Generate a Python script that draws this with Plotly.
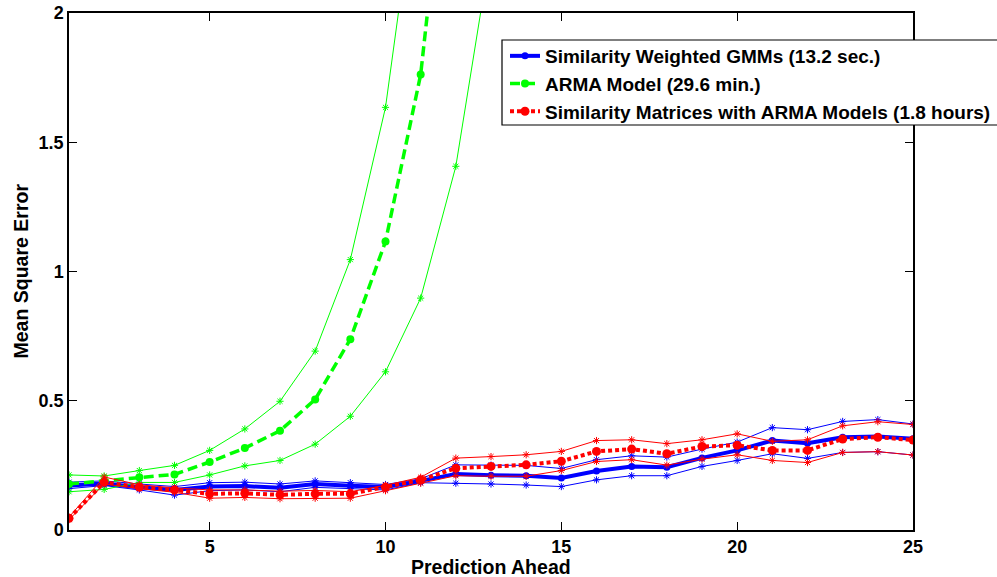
import plotly.graph_objects as go

# Prediction horizons
horizon = list(range(1, 26))

# Similarity Weighted GMMs: mean MSE and its upper / lower band
gmm_mean = [0.172, 0.180, 0.165, 0.155, 0.168, 0.170, 0.163, 0.178, 0.171, 0.166,
            0.190, 0.217, 0.212, 0.210, 0.201, 0.228, 0.246, 0.243, 0.279, 0.308,
            0.346, 0.336, 0.359, 0.362, 0.353]
gmm_upper = [0.185, 0.190, 0.178, 0.168, 0.183, 0.185, 0.178, 0.190, 0.183, 0.176,
             0.198, 0.252, 0.251, 0.250, 0.238, 0.272, 0.287, 0.282, 0.313, 0.340,
             0.396, 0.388, 0.420, 0.427, 0.410]
gmm_lower = [0.160, 0.172, 0.155, 0.135, 0.152, 0.155, 0.148, 0.165, 0.160, 0.155,
             0.183, 0.181, 0.178, 0.174, 0.168, 0.194, 0.210, 0.210, 0.246, 0.269,
             0.295, 0.277, 0.300, 0.303, 0.290]

# ARMA model: errors blow up after ~10 steps
arma_mean = [0.178, 0.190, 0.204, 0.215, 0.263, 0.317, 0.384, 0.505, 0.738, 1.116,
             1.762, 3.000]
arma_upper = [0.213, 0.209, 0.230, 0.250, 0.308, 0.391, 0.498, 0.692, 1.046, 1.635,
              2.630]
arma_lower = [0.148, 0.157, 0.184, 0.184, 0.213, 0.248, 0.269, 0.332, 0.440, 0.612,
              0.897, 1.407, 2.250]

# Similarity matrices with ARMA models
sim_mean = [0.045, 0.185, 0.166, 0.155, 0.140, 0.142, 0.136, 0.140, 0.140, 0.166,
            0.194, 0.239, 0.246, 0.252, 0.266, 0.304, 0.313, 0.295, 0.323, 0.328,
            0.308, 0.308, 0.352, 0.359, 0.348]
sim_upper = [0.050, 0.205, 0.175, 0.163, 0.155, 0.155, 0.150, 0.153, 0.148, 0.173,
             0.204, 0.278, 0.284, 0.291, 0.304, 0.346, 0.349, 0.334, 0.349, 0.372,
             0.343, 0.349, 0.403, 0.419, 0.408]
sim_lower = [0.040, 0.178, 0.160, 0.146, 0.123, 0.126, 0.121, 0.123, 0.123, 0.152,
             0.181, 0.210, 0.208, 0.208, 0.230, 0.265, 0.272, 0.251, 0.274, 0.291,
             0.269, 0.261, 0.300, 0.303, 0.290]

labels = ["Similarity Weighted GMMs (13.2 sec.)",
          "ARMA Model (29.6 min.)",
          "Similarity Matrices with ARMA Models (1.8 hours)"]

x_ticks = [5, 10, 15, 20, 25]
y_ticks = [0, 0.5, 1, 1.5, 2]

BLUE, GREEN, RED = "#0000FF", "#00FF00", "#FF0000"
FONT = "Liberation Sans, Arial, sans-serif"

# plot-area geometry in pixels
L, R, T, B = 69, 84, 13, 47
W, H = 997, 577
PW, PH = W - L - R, H - T - B


def px_x(p):
    return (p - L) / PW


def px_y(p):
    return (H - B - p) / PH


fig = go.Figure()


def band(y, color):
    fig.add_trace(go.Scatter(
        x=horizon[:len(y)], y=y, mode="lines+markers", showlegend=False,
        line=dict(color=color, width=1),
        marker=dict(symbol="asterisk-open", size=6,
                    line=dict(color=color, width=1)),
        hoverinfo="skip"))


def main(y, color, dash, width, name, msize):
    fig.add_trace(go.Scatter(
        x=horizon[:len(y)], y=y, mode="lines+markers", name=name,
        line=dict(color=color, width=width, dash=dash),
        marker=dict(symbol="circle", size=msize, color=color)))


band(gmm_upper, BLUE)
band(gmm_lower, BLUE)
main(gmm_mean, BLUE, "solid", 4, labels[0], 7)

band(arma_upper, GREEN)
band(arma_lower, GREEN)
main(arma_mean, GREEN, "10px,5px", 3.5, labels[1], 8)

band(sim_upper, RED)
band(sim_lower, RED)
main(sim_mean, RED, "4px,3px", 4, labels[2], 9)

axis_common = dict(
    showline=True, linecolor="black", linewidth=1.5, mirror="ticks",
    ticks="inside", ticklen=8, tickwidth=1, tickcolor="black",
    showgrid=False, zeroline=False,
    tickfont=dict(family=FONT, size=18, color="black", weight="bold"),
)

fig.update_xaxes(range=[1, 25], tickvals=x_ticks,
                 ticktext=[str(v) for v in x_ticks], **axis_common)
fig.update_yaxes(range=[0, 2], tickvals=y_ticks,
                 ticktext=["0", "0.5", "1", "1.5", "2"], **axis_common)

# legend frame: white box that runs off the right edge of the page
fig.add_shape(type="rect", xref="paper", yref="paper", layer="above",
              x0=px_x(502), x1=px_x(1005), y0=px_y(125), y1=px_y(40),
              fillcolor="white", line=dict(color="black", width=1.2))

fig.update_layout(
    width=W, height=H,
    margin=dict(l=L, r=R, t=T, b=B, pad=0, autoexpand=False),
    paper_bgcolor="white", plot_bgcolor="white",
    font=dict(family=FONT, color="black"),
    legend=dict(
        x=px_x(505), y=px_y(37), xanchor="left", yanchor="top",
        bgcolor="rgba(0,0,0,0)", borderwidth=0,
        font=dict(family=FONT, size=19, color="black", weight="bold"),
        itemwidth=30, tracegroupgap=0,
    ),
    annotations=[
        dict(text="Prediction Ahead", xref="paper", yref="paper",
             x=0.5, y=0, yshift=-37, xanchor="center", yanchor="middle",
             showarrow=False,
             font=dict(family=FONT, size=19.5, color="black", weight="bold")),
        dict(text="Mean Square Error", xref="paper", yref="paper",
             x=0, y=0.5, xshift=-49, xanchor="center", yanchor="middle",
             textangle=-90, showarrow=False,
             font=dict(family=FONT, size=19.5, color="black", weight="bold")),
    ],
)

fig.write_html("out.html")
